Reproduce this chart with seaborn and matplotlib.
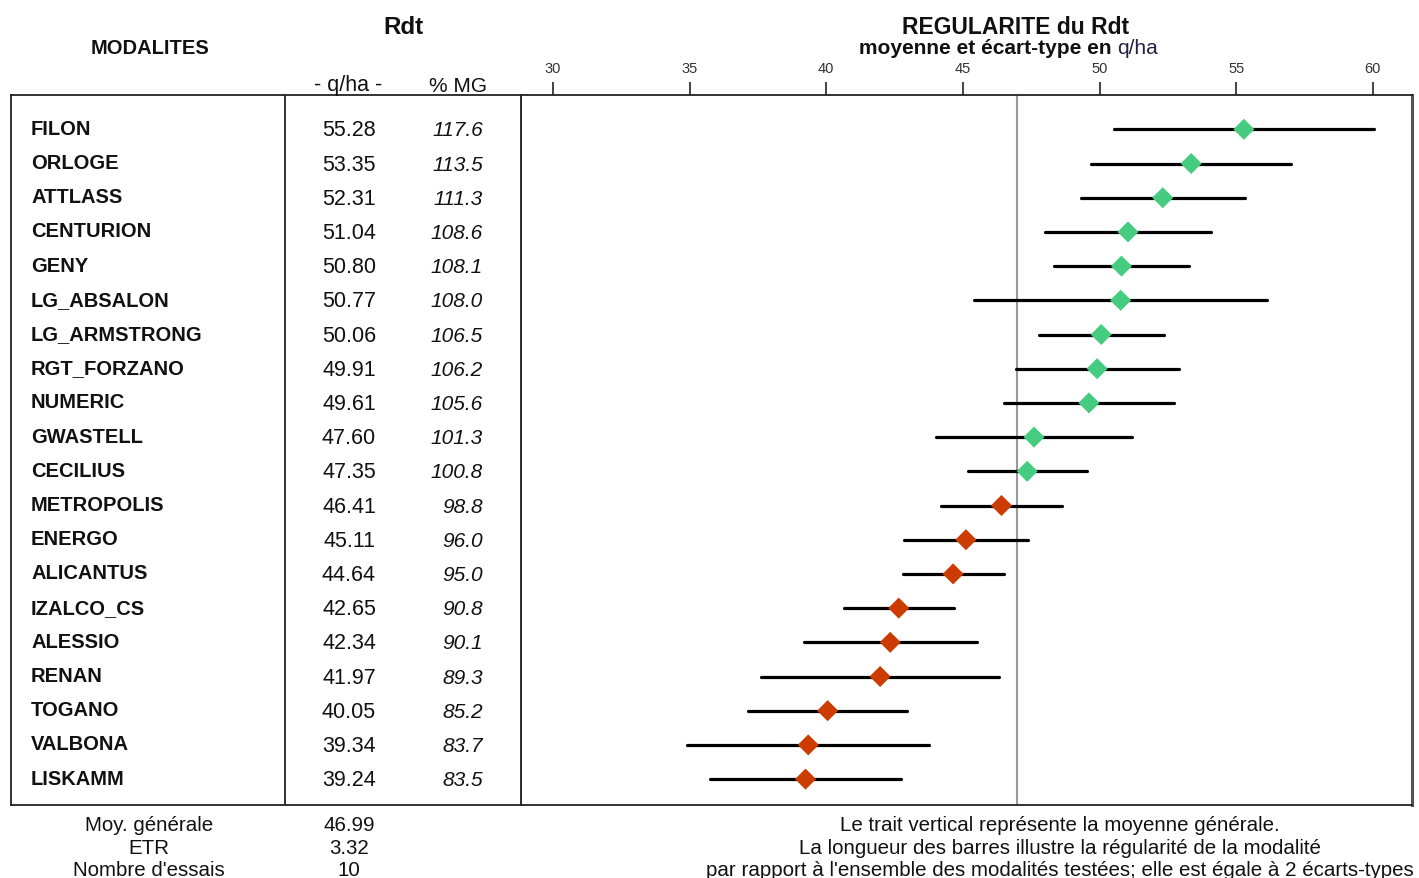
import numpy as np
import pandas as pd
import matplotlib
matplotlib.use("Agg")
import matplotlib.pyplot as plt
import matplotlib.transforms as mtransforms
import seaborn as sns

# ---------------- data ----------------
names = ["FILON", "ORLOGE", "ATTLASS", "CENTURION", "GENY", "LG_ABSALON",
         "LG_ARMSTRONG", "RGT_FORZANO", "NUMERIC", "GWASTELL", "CECILIUS",
         "METROPOLIS", "ENERGO", "ALICANTUS", "IZALCO_CS", "ALESSIO", "RENAN",
         "TOGANO", "VALBONA", "LISKAMM"]
rdt = [55.28, 53.35, 52.31, 51.04, 50.80, 50.77, 50.06, 49.91, 49.61, 47.60,
       47.35, 46.41, 45.11, 44.64, 42.65, 42.34, 41.97, 40.05, 39.34, 39.24]
pct_mg = [117.6, 113.5, 111.3, 108.6, 108.1, 108.0, 106.5, 106.2, 105.6, 101.3,
          100.8, 98.8, 96.0, 95.0, 90.8, 90.1, 89.3, 85.2, 83.7, 83.5]
ecart = [4.75, 3.66, 3.00, 3.02, 2.47, 5.36, 2.28, 2.98, 3.10, 3.58,
         2.18, 2.22, 2.28, 1.85, 2.01, 3.17, 4.36, 2.90, 4.42, 3.50]
moy_generale = 46.99
etr = 3.32
nb_essais = 10
x_ticks = [30, 35, 40, 45, 50, 55, 60]

df = pd.DataFrame({"name": names, "rdt": rdt, "pct": pct_mg, "sd": ecart})
df["row"] = np.arange(len(df))
df["grp"] = np.where(df["rdt"] >= moy_generale, "sup", "inf")

# ---------------- style ----------------
sns.set_style("white")
plt.rcParams["font.family"] = ["Liberation Sans", "DejaVu Sans"]

W, H = 1419, 879
fig = plt.figure(figsize=(W / 100, H / 100), dpi=100)


def fx(px):
    return px / W


def fy(py):
    return 1 - py / H


top, bot = 96, 806
ax = fig.add_axes([fx(521), fy(bot), fx(1412) - fx(521), fy(top) - fy(bot)])
axl = fig.add_axes([fx(11), fy(bot), fx(521) - fx(11), fy(top) - fy(bot)], sharey=ax)

row0, dy = 130.3, 34.2
ax.set_ylim((bot - row0) / dy, (top - row0) / dy)

# error bars
ax.hlines(df["row"], df["rdt"] - df["sd"], df["rdt"] + df["sd"],
          color="black", lw=2.3, capstyle="round", zorder=2)
# mean line
ax.axvline(moy_generale, color="#999999", lw=1.5, zorder=1)
# markers
sns.scatterplot(data=df, x="rdt", y="row", hue="grp",
                palette={"sup": "#45CC80", "inf": "#CC3C00"},
                marker="D", s=115, linewidth=0, legend=False, ax=ax, zorder=3)

# x axis
ax.set_xlim(28.83, 61.43)
ax.set_xticks(x_ticks)
ax.xaxis.tick_top()
ax.tick_params(axis="x", direction="out", length=9.5, width=1.2, pad=5,
               labelsize=10.5, colors="#222222", labelcolor="#333333",
               top=True, bottom=False)
ax.tick_params(axis="y", left=False, labelleft=False)
ax.set_xlabel("")
ax.set_ylabel("")
for sp in ax.spines.values():
    sp.set_color("#222222")
    sp.set_linewidth(1.3)
ax.spines["right"].set_color("#555555")
ax.spines["right"].set_linewidth(2.2)

# left table axes
axl.set_xlim(0, 1)
axl.tick_params(left=False, bottom=False, labelleft=False, labelbottom=False)
for sp in axl.spines.values():
    sp.set_color("#222222")
    sp.set_linewidth(1.3)
axl.axvline((285 - 11) / (521 - 11), color="#222222", lw=1.3)

tr = mtransforms.blended_transform_factory(fig.transFigure, ax.transData)
for _, r in df.iterrows():
    axl.text(fx(31), r["row"] - 0.03, r["name"], transform=tr, ha="left",
             va="center", fontsize=14.5, fontweight="bold", color="#111111")
    axl.text(fx(349), r["row"] + 0.02, f"{r['rdt']:.2f}", transform=tr,
             ha="center", va="center", fontsize=15.5, color="#111111")
    axl.text(fx(483), r["row"] + 0.02, f"{r['pct']:.1f}", transform=tr,
             ha="right", va="center", fontsize=15, style="italic",
             color="#111111")

# headers
fig.text(fx(150), fy(48), "MODALITES", ha="center", va="center",
         fontsize=14.5, fontweight="bold", color="#111111")
fig.text(fx(403), fy(27), "Rdt", ha="center", va="center",
         fontsize=17.5, fontweight="bold", color="#111111")
fig.text(fx(348), fy(86), "- q/ha -", ha="center", va="center",
         fontsize=15.5, color="#111111")
fig.text(fx(458), fy(86), "% MG", ha="center", va="center",
         fontsize=15, color="#111111")
fig.text(fx(1016), fy(27), "REGULARITE du Rdt", ha="center", va="center",
         fontsize=16.5, fontweight="bold", color="#111111")
fig.text(fx(1117), fy(48), "moyenne et écart-type en ", ha="right",
         va="center", fontsize=15, fontweight="bold", color="#111111")
fig.text(fx(1117), fy(48), "q/ha", ha="left", va="center",
         fontsize=15, color="#222244")

# footer
foot_l = ["Moy. générale", "ETR", "Nombre d'essais"]
foot_v = [f"{moy_generale:.2f}", f"{etr:.2f}", f"{nb_essais}"]
foot_r = ["Le trait vertical représente la moyenne générale.",
          "La longueur des barres illustre la régularité de la modalité",
          "par rapport à l'ensemble des modalités testées; elle est égale à 2 écarts-types"]
for i, yy in enumerate([826, 849, 871]):
    fig.text(fx(149), fy(yy), foot_l[i], ha="center", va="center",
             fontsize=14.8, color="#111111")
    fig.text(fx(349), fy(yy), foot_v[i], ha="center", va="center",
             fontsize=14.8, color="#111111")
    fig.text(fx(1060), fy(yy), foot_r[i], ha="center", va="center",
             fontsize=14.8, color="#111111")

fig.savefig("out.png", dpi=100, facecolor="white")
